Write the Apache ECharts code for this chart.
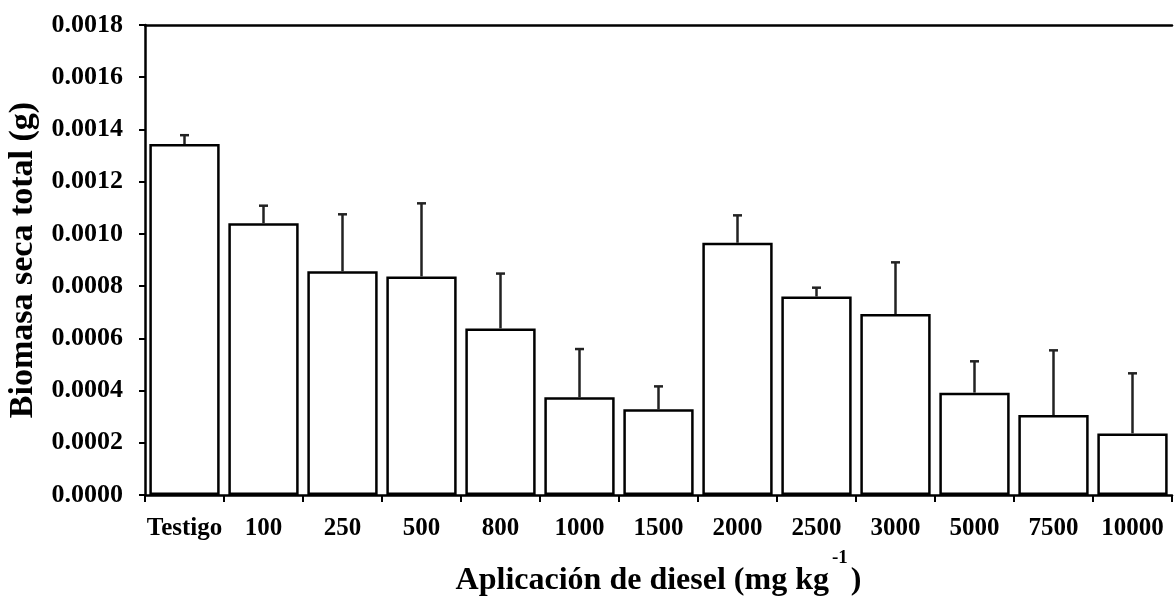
<!DOCTYPE html>
<html>
<head>
<meta charset="utf-8">
<script src="https://cdn.jsdelivr.net/npm/echarts@6/dist/echarts.min.js"></script>
<style>
html,body{margin:0;padding:0;background:#fff;}
#chart{width:1175px;height:596px;}
</style>
</head>
<body>
<div id="chart"></div>
<script>
const categories = ['Testigo','100','250','500','800','1000','1500','2000','2500','3000','5000','7500','10000'];
const means = [0.001344, 0.001041, 0.000857, 0.000837, 0.000638, 0.000374, 0.000328, 0.000966, 0.000760, 0.000693, 0.000392, 0.000306, 0.000236];
const errors = [0.000034, 0.000067, 0.000218, 0.000280, 0.000210, 0.000185, 0.000088, 0.000105, 0.000034, 0.000198, 0.000120, 0.000248, 0.000230];
const yTicks = [0, 0.0002, 0.0004, 0.0006, 0.0008, 0.0010, 0.0012, 0.0014, 0.0016, 0.0018];

const FONT = '"Liberation Serif", "Times New Roman", serif';
const chart = echarts.init(document.getElementById('chart'), null, {renderer: 'canvas'});

const errData = means.map((m, i) => [i, m, m + errors[i]]);

chart.setOption({
  animation: false,
  backgroundColor: '#fff',
  grid: {left: 145, right: 3, top: 25, bottom: 101, containLabel: false, outerBoundsMode: 'none'},
  xAxis: [{
    type: 'category',
    data: categories,
    position: 'bottom',
    axisLine: {lineStyle: {color: '#000', width: 2.5}},
    axisTick: {show: true, length: 7, lineStyle: {color: '#000', width: 2}, alignWithLabel: false},
    axisLabel: {color: '#000', fontFamily: FONT, fontWeight: 'bold', fontSize: 25, margin: 21, interval: 0},
    name: '{m|Aplicación de diesel (mg kg}{s|-1}{m|)}',
    nameLocation: 'middle',
    nameGap: 54,
    nameTextStyle: {
      rich: {
        m: {fontFamily: FONT, fontWeight: 'bold', fontSize: 32, color: '#000', verticalAlign: 'bottom', lineHeight: 48},
        s: {fontFamily: FONT, fontWeight: 'bold', fontSize: 19, color: '#000', verticalAlign: 'top', lineHeight: 22, padding: [0, 3, 0, 3]}
      }
    }
  }, {
    type: 'category',
    data: categories,
    position: 'top',
    axisLine: {show: true, lineStyle: {color: '#000', width: 2.5}},
    axisTick: {show: false},
    axisLabel: {show: false}
  }],
  yAxis: {
    type: 'value',
    min: 0,
    max: 0.0018,
    interval: 0.0002,
    splitLine: {show: false},
    axisLine: {show: true, lineStyle: {color: '#000', width: 2.5}},
    axisTick: {show: true, length: 6, lineStyle: {color: '#000', width: 2}},
    axisLabel: {
      color: '#000', fontFamily: FONT, fontWeight: 'bold', fontSize: 26, margin: 22,
      formatter: v => v.toFixed(4)
    },
    name: 'Biomasa seca total (g)',
    nameLocation: 'middle',
    nameGap: 103,
    nameTextStyle: {color: '#000', fontFamily: FONT, fontWeight: 'bold', fontSize: 34}
  },
  series: [{
    type: 'bar',
    data: means,
    barCategoryGap: '11%',
    itemStyle: {color: '#fff', borderColor: '#000', borderWidth: 2.5},
    z: 2
  }, {
    type: 'custom',
    data: errData,
    z: 3,
    renderItem: function (params, api) {
      const i = api.value(0);
      const base = api.coord([i, api.value(1)]);
      const top = api.coord([i, api.value(2)]);
      const hw = 4.5;
      return {
        type: 'group',
        children: [{
          type: 'line',
          shape: {x1: base[0], y1: base[1], x2: top[0], y2: top[1]},
          style: {stroke: '#222', lineWidth: 2.5}
        }, {
          type: 'line',
          shape: {x1: top[0] - hw, y1: top[1], x2: top[0] + hw, y2: top[1]},
          style: {stroke: '#222', lineWidth: 2.5}
        }]
      };
    }
  }]
});
</script>
</body>
</html>
